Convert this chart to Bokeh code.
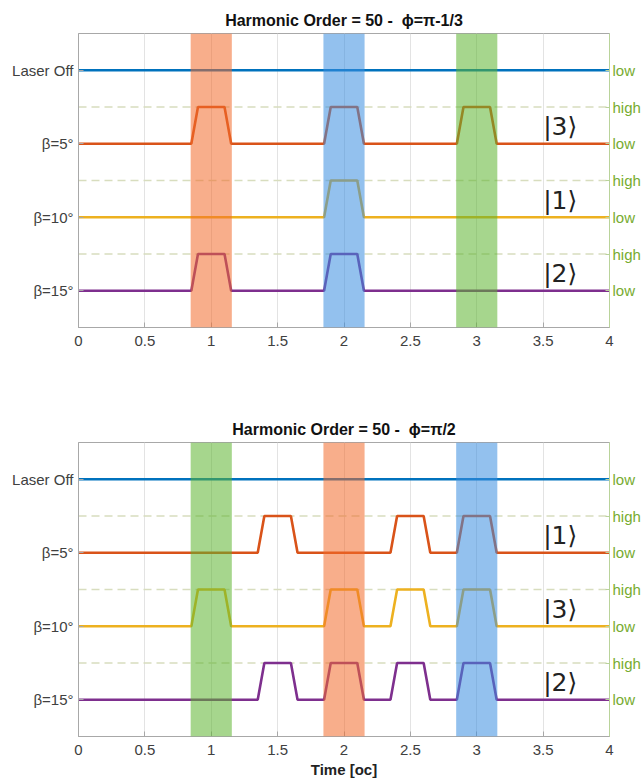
from bokeh.plotting import figure
from bokeh.layouts import column
from bokeh.models import Range1d, FixedTicker, LinearAxis, Span, BoxAnnotation
from bokeh.core.properties import value
from bokeh.embed import file_html
from bokeh.resources import INLINE

# ---------------- data ----------------
row_labels = ["Laser Off", "β=5°", "β=10°", "β=15°"]
row_levels = [4, 3, 2, 1]
state_ticks = [1, 1.5, 2, 2.5, 3, 3.5, 4]
state_labels = ["low", "high", "low", "high", "low", "high", "low"]
x_ticks = [0, 0.5, 1, 1.5, 2, 2.5, 3, 3.5, 4]
x_tick_labels = ["0", "0.5", "1", "1.5", "2", "2.5", "3", "3.5", "4"]
series_colors = ["#0072BD", "#D95319", "#EDB120", "#7E2F8E"]

# pulse centres (oc) for each row: Laser Off, β=5°, β=10°, β=15°
top_pulses = [[], [1, 2, 3], [2], [1, 2]]
bottom_pulses = [[], [1.5, 2.5, 3], [1, 2, 2.5, 3], [1.5, 2, 2.5, 3]]
top_band_centres = [1, 2, 3]
top_band_colors = ["#F26B2C", "#3A8EE0", "#5DB530"]
bottom_band_centres = [1, 2, 3]
bottom_band_colors = ["#5DB530", "#F26B2C", "#3A8EE0"]
top_kets = ["|3⟩", "|1⟩", "|2⟩"]
bottom_kets = ["|1⟩", "|3⟩", "|2⟩"]
top_title = "Harmonic Order = 50 -\u00a0\u00a0ϕ=π-1/3"
bottom_title = "Harmonic Order = 50 -\u00a0\u00a0ϕ=π/2"

# pulse shape (oc)
RISE = 0.05
HALF_FLAT = 0.10
BAND_HALF = 0.155
HIGH_STEP = 0.5
T0, T1 = 0, 4

FONT = "Liberation Sans"
GRAY = "#404040"
AXIS_GRAY = "#A8A8A8"
GREEN = "#77AC30"


def pulse_trace(level, centres):
    xs = [T0]
    ys = [level]
    for c in sorted(centres):
        xs += [c - HALF_FLAT - RISE, c - HALF_FLAT, c + HALF_FLAT, c + HALF_FLAT + RISE]
        ys += [level, level + HIGH_STEP, level + HIGH_STEP, level]
    xs.append(T1)
    ys.append(level)
    return xs, ys


def make_panel(title, pulses, band_centres, band_colors, kets, xlabel, border_top, border_bottom):
    p = figure(frame_width=531, frame_height=294, output_backend="svg", toolbar_location=None,
               x_range=Range1d(T0, T1), y_range=Range1d(0.5, 4.5),
               min_border_left=78, min_border_right=34,
               min_border_top=border_top, min_border_bottom=border_bottom)
    p.background_fill_color = "white"
    p.border_fill_color = "white"
    p.outline_line_color = AXIS_GRAY
    p.outline_line_width = 1

    p.title.text = title
    p.title.align = "center"
    p.title.text_font = FONT
    p.title.text_font_size = "16px"
    p.title.text_font_style = "bold"
    p.title.text_color = "#111111"

    # x axis
    xa = p.xaxis[0]
    xa.ticker = FixedTicker(ticks=x_ticks)
    xa.major_label_overrides = {t: l for t, l in zip(x_ticks, x_tick_labels)}
    xa.major_label_text_font = FONT
    xa.major_label_text_font_size = "15px"
    xa.major_label_text_color = GRAY
    xa.axis_line_color = AXIS_GRAY
    xa.major_tick_line_color = AXIS_GRAY
    xa.major_tick_in = 5
    xa.major_tick_out = 0
    xa.minor_tick_line_color = None
    xa.major_label_standoff = 8
    if xlabel:
        xa.axis_label = xlabel
        xa.axis_label_text_font = FONT
        xa.axis_label_text_font_size = "15px"
        xa.axis_label_text_font_style = "bold"
        xa.axis_label_text_color = "#222222"
        xa.axis_label_standoff = 3

    # left axis
    ya = p.yaxis[0]
    ya.ticker = FixedTicker(ticks=row_levels)
    ya.major_label_overrides = {t: l for t, l in zip(row_levels, row_labels)}
    ya.major_label_text_font = FONT
    ya.major_label_text_font_size = "15px"
    ya.major_label_text_color = GRAY
    ya.axis_line_color = AXIS_GRAY
    ya.major_tick_line_color = AXIS_GRAY
    ya.major_tick_in = 5
    ya.major_tick_out = 0
    ya.minor_tick_line_color = None
    ya.major_label_standoff = 5

    # right axis (states)
    ra = LinearAxis(ticker=FixedTicker(ticks=state_ticks))
    ra.major_label_overrides = {t: l for t, l in zip(state_ticks, state_labels)}
    ra.major_label_text_font = FONT
    ra.major_label_text_font_size = "15px"
    ra.major_label_text_color = GREEN
    ra.axis_line_color = "#B9D39A"
    ra.major_tick_line_color = "#B9D39A"
    ra.major_tick_in = 4
    ra.major_tick_out = 0
    ra.minor_tick_line_color = None
    ra.major_label_standoff = 3
    p.add_layout(ra, "right")

    # grid
    p.xgrid.ticker = FixedTicker(ticks=x_ticks)
    p.xgrid.grid_line_color = "#E3E3E3"
    p.ygrid.visible = False

    # dashed "high" reference lines
    for t, l in zip(state_ticks, state_labels):
        if l == "high":
            p.add_layout(Span(location=t, dimension="width", line_color="#D8DDBE",
                              line_dash="8 5", line_width=1.3, level="underlay"))

    # traces
    for lvl, centres, col in zip(row_levels, pulses, series_colors):
        xs, ys = pulse_trace(lvl, centres)
        p.line(xs, ys, line_color=col, line_width=2.6)

    # shaded bands (on top, translucent)
    for c, col in zip(band_centres, band_colors):
        p.add_layout(BoxAnnotation(left=c - BAND_HALF, right=c + BAND_HALF,
                                   fill_color=col, fill_alpha=0.55, line_color=None))

    # ket labels
    ket_levels = row_levels[1:]
    p.text(x=[3.5] * len(kets), y=[l + 0.23 for l in ket_levels], text=kets,
           text_font=value("DejaVu Sans"), text_font_size="25px",
           text_baseline="middle", text_align="left", text_color="#222222")
    return p


p1 = make_panel(top_title, top_pulses, top_band_centres, top_band_colors, top_kets,
                None, 33, 73)
p2 = make_panel(bottom_title, bottom_pulses, bottom_band_centres, bottom_band_colors,
                bottom_kets, "Time [oc]", 42, 43)

layout = column(p1, p2, spacing=0)
open("out.html", "w").write(file_html(layout, INLINE))
